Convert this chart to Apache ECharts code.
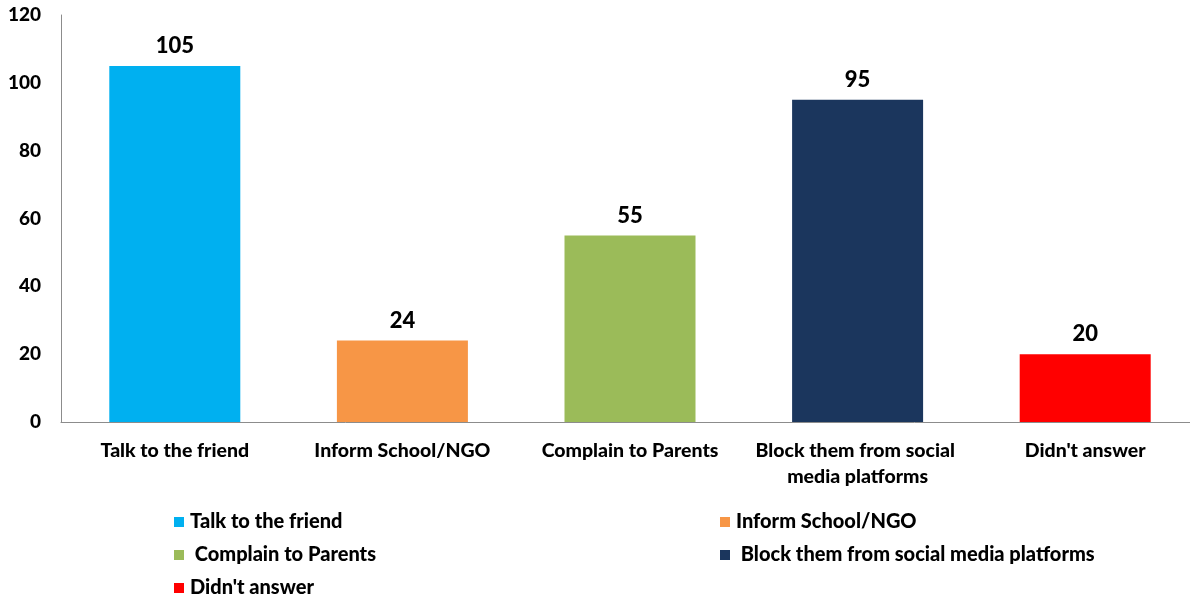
<!DOCTYPE html>
<html>
<head>
<meta charset="utf-8">
<script src="https://cdn.jsdelivr.net/npm/echarts@6/dist/echarts.min.js"></script>
<style>
  html, body { margin: 0; padding: 0; background: #ffffff; overflow: hidden; }
  #chart { width: 1200px; height: 598px; }
</style>
</head>
<body>
<div id="chart"></div>
<script>
// Responses: what students did about it
const categories = ['Talk to the friend', 'Inform School/NGO', 'Complain to Parents', 'Block them from social media platforms', "Didn't answer"];
const responseCounts = [105, 24, 55, 95, 20];
const barColors = ['#00B0F0', '#F79646', '#9BBB59', '#1B365D', '#FF0000'];
const yTicks = { min: 0, max: 120, interval: 20 };

const FONT = 'Lato, "Liberation Sans", sans-serif';
const WEIGHT = 900;

// One series per category so each bar gets its own legend entry;
// barGap -100% keeps every bar centred on its category.
const series = categories.map((name, i) => ({
  name: name,
  type: 'bar',
  barWidth: 131,
  barGap: '-100%',
  itemStyle: { color: barColors[i] },
  label: {
    show: true,
    position: 'top',
    distance: 9,
    color: '#000',
    fontFamily: FONT,
    fontWeight: WEIGHT,
    fontSize: 22
  },
  data: responseCounts.map((v, j) => (j === i ? v : '-'))
}));

// Legend placement: two columns, three rows
const legendSlots = [
  { left: 174, top: 512, pad: '' },
  { left: 720, top: 512, pad: '' },
  { left: 174, top: 545, pad: ' ' },
  { left: 720, top: 545, pad: ' ' },
  { left: 174, top: 578, pad: '' }
];
const legends = categories.map((name, i) => ({
  data: [name],
  left: legendSlots[i].left,
  top: legendSlots[i].top,
  icon: 'rect',
  itemWidth: 10,
  itemHeight: 10,
  itemGap: 0,
  padding: 0,
  selectedMode: false,
  formatter: n => legendSlots[i].pad + n,
  textStyle: { fontFamily: FONT, fontWeight: WEIGHT, fontSize: 20, color: '#000', padding: [0, 0, 0, 1] }
}));

const chart = echarts.init(document.getElementById('chart'), null, { renderer: 'canvas' });
chart.setOption({
  animation: false,
  backgroundColor: '#ffffff',
  legend: legends,
  grid: { left: 61, top: 15, width: 1138, height: 407, containLabel: false },
  xAxis: {
    type: 'category',
    data: categories,
    axisLine: { show: true, lineStyle: { color: '#8c8c8c', width: 1 } },
    axisTick: { show: false },
    axisLabel: {
      interval: 0,
      margin: 16,
      color: '#000',
      fontFamily: FONT,
      fontWeight: WEIGHT,
      fontSize: 19.5,
      lineHeight: 26,
      width: 215,
      overflow: 'break'
    }
  },
  yAxis: {
    type: 'value',
    min: yTicks.min,
    max: yTicks.max,
    interval: yTicks.interval,
    axisLine: { show: true, lineStyle: { color: '#8c8c8c', width: 1 } },
    axisTick: { show: false },
    splitLine: { show: false },
    axisLabel: {
      margin: 20,
      color: '#000',
      fontFamily: FONT,
      fontWeight: WEIGHT,
      fontSize: 19
    }
  },
  series: series
});
</script>
</body>
</html>
